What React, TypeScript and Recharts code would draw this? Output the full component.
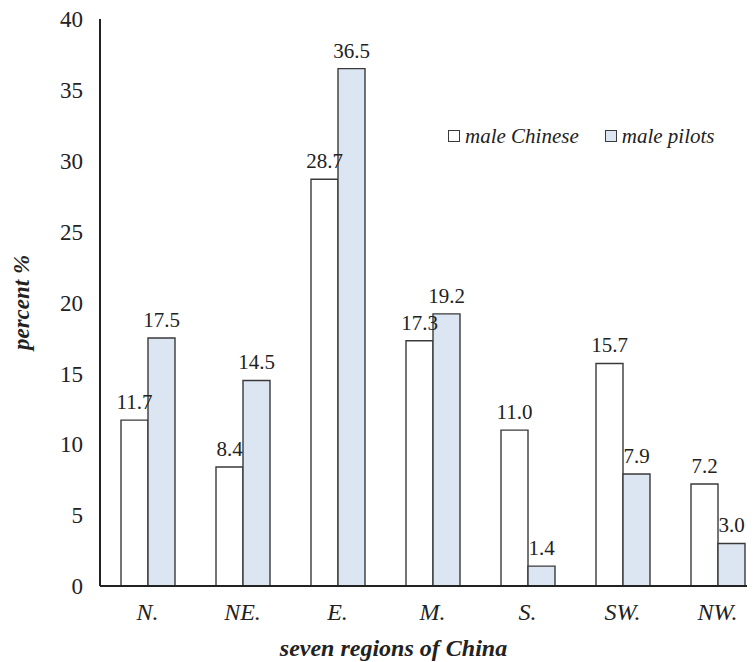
import React from 'react';
import { BarChart, Bar, XAxis, YAxis, LabelList, Legend } from 'recharts';

const regions = ['N.', 'NE.', 'E.', 'M.', 'S.', 'SW.', 'NW.'];
const maleChinese = [11.7, 8.4, 28.7, 17.3, 11.0, 15.7, 7.2];
const malePilots = [17.5, 14.5, 36.5, 19.2, 1.4, 7.9, 3.0];
const yTicks = [0, 5, 10, 15, 20, 25, 30, 35, 40];
const seriesNames = ['male Chinese', 'male pilots'];

const data = regions.map((r, i) => ({ region: r, chinese: maleChinese[i], pilots: malePilots[i] }));

const FONT = '"Liberation Serif", Tinos, "Times New Roman", serif';
const STROKE = '#3a3a3a';
const BLUE = '#dce6f2';

const LegendContent = () => (
  <div style={{ display: 'flex', alignItems: 'center', fontFamily: FONT, fontStyle: 'italic', fontSize: 21, lineHeight: '24px', color: '#222', whiteSpace: 'nowrap' }}>
    {seriesNames.map((n, i) => (
      <span key={n} style={{ display: 'flex', alignItems: 'center', marginRight: i === 0 ? 26 : 0 }}>
        <span style={{ display: 'inline-block', boxSizing: 'border-box', width: 12, height: 12, border: `1.5px solid ${STROKE}`, background: i === 0 ? '#fff' : BLUE, marginRight: 5 }} />
        {n}
      </span>
    ))}
  </div>
);

const YLabel = (props: any) => {
  const { viewBox } = props;
  const cx = viewBox.x - 1;
  const cy = viewBox.y + viewBox.height / 2;
  return (
    <text x={cx} y={cy} transform={`rotate(-90, ${cx}, ${cy})`} textAnchor="middle" dominantBaseline="central"
      fontFamily={FONT} fontStyle="italic" fontWeight="bold" fontSize={23} fill="#222">percent %</text>
  );
};

const XLabel = (props: any) => {
  const { viewBox } = props;
  const cx = viewBox.x + viewBox.width / 2 - 39;
  const y = viewBox.y + 70;
  return (
    <text x={cx} y={y} textAnchor="middle" fontFamily={FONT} fontStyle="italic" fontWeight="bold" fontSize={24} fill="#222">seven regions of China</text>
  );
};

const fmt = (v: any) => Number(v).toFixed(1);

export default function App() {
  return (
    <div style={{ width: 747, height: 654, overflow: 'hidden' }}>
      <BarChart width={770} height={654} data={data} margin={{ top: 11, right: 13, bottom: 16, left: 14 }}
        barGap={0} barSize={27}>
        <XAxis dataKey="region" height={60} axisLine={{ stroke: '#222', strokeWidth: 2 }} tickLine={false} tickSize={0} tickMargin={17}
          tick={{ fontFamily: FONT, fontStyle: 'italic', fontSize: 24, fill: '#222' }}
          label={<XLabel />} />
        <YAxis width={78} domain={[0, 40]} ticks={yTicks} interval={0} axisLine={{ stroke: '#222', strokeWidth: 2 }} tickLine={false} tickSize={0} tickMargin={17}
          tick={{ fontFamily: FONT, fontSize: 23, fill: '#222' }} label={<YLabel />} />
        <Legend layout="vertical" align="center" verticalAlign="middle" content={<LegendContent />}
          wrapperStyle={{ position: 'absolute', left: 440, top: 116, width: 'auto', height: 'auto' }} />
        <Bar dataKey="chinese" name="male Chinese" fill="#ffffff" stroke={STROKE} strokeWidth={1.4} isAnimationActive={false}>
          <LabelList dataKey="chinese" position="top" offset={11} formatter={fmt} style={{ fontFamily: FONT, fontSize: 21, fill: '#222' }} />
        </Bar>
        <Bar dataKey="pilots" name="male pilots" fill={BLUE} stroke={STROKE} strokeWidth={1.4} isAnimationActive={false}>
          <LabelList dataKey="pilots" position="top" offset={11} formatter={fmt} style={{ fontFamily: FONT, fontSize: 21, fill: '#222' }} />
        </Bar>
      </BarChart>
    </div>
  );
}
